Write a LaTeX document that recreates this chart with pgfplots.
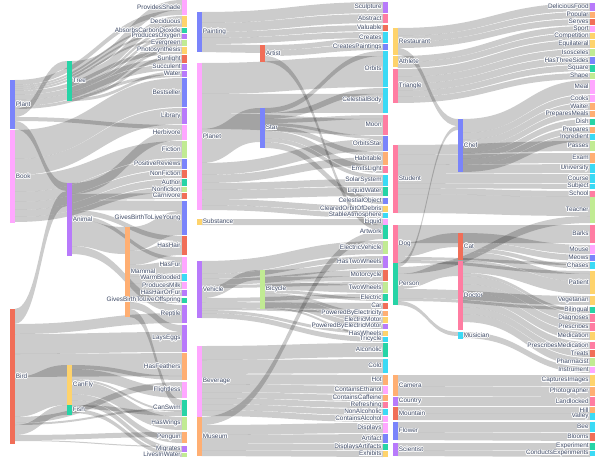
\documentclass[border=0pt]{standalone}
\usepackage{fontspec}
\setmainfont{Liberation Sans}
\usepackage{pgfplots}
\pgfplotsset{compat=1.18}
\usepackage{contour}
\contourlength{0.6bp}

\definecolor{pblue}{HTML}{636EFA}
\definecolor{pred}{HTML}{EF553B}
\definecolor{pteal}{HTML}{00CC96}
\definecolor{ppurple}{HTML}{AB63FA}
\definecolor{porange}{HTML}{FFA15A}
\definecolor{pcyan}{HTML}{19D3F3}
\definecolor{ppinkred}{HTML}{FF6692}
\definecolor{plgreen}{HTML}{B6E880}
\definecolor{ppink}{HTML}{FF97FF}
\definecolor{pyellow}{HTML}{FECB52}
\definecolor{labelcol}{RGB}{62,74,102}

% column x positions and label side
\def\cx@{}
\expandafter\def\csname cx@0\endcsname{10}
\expandafter\def\csname cx@1\endcsname{67}
\expandafter\def\csname cx@2\endcsname{125}
\expandafter\def\csname cx@3\endcsname{182}
\expandafter\def\csname cx@4\endcsname{197}
\expandafter\def\csname cx@5\endcsname{260}
\expandafter\def\csname cx@6\endcsname{383}
\expandafter\def\csname cx@7\endcsname{393}
\expandafter\def\csname cx@8\endcsname{458}
\expandafter\def\csname cx@9\endcsname{590}
\expandafter\def\csname cs@0\endcsname{r}
\expandafter\def\csname cs@1\endcsname{r}
\expandafter\def\csname cs@2\endcsname{r}
\expandafter\def\csname cs@3\endcsname{l}
\expandafter\def\csname cs@4\endcsname{r}
\expandafter\def\csname cs@5\endcsname{r}
\expandafter\def\csname cs@6\endcsname{l}
\expandafter\def\csname cs@7\endcsname{r}
\expandafter\def\csname cs@8\endcsname{r}
\expandafter\def\csname cs@9\endcsname{l}
\def\nw{4.5}

% nodes: name, column, top, bottom, colour
\def\ndstore#1#2#3#4#5{%
  \expandafter\xdef\csname nx@#1\endcsname{\csname cx@#2\endcsname}%
  \expandafter\xdef\csname no@#1\endcsname{#3}%
  \expandafter\xdef\csname ni@#1\endcsname{#3}}
\def\nddraw#1#2#3#4#5{%
  \edef\nxa{\csname cx@#2\endcsname}%
  \pgfmathsetmacro\nxb{\nxa+\nw}%
  \pgfmathsetmacro\nym{(#3+#4)/2}%
  \edef\tmp{\noexpand\fill[#5!85!white] (axis cs:\nxa,#3) rectangle (axis cs:\nxb,#4);}\tmp
  \if l\csname cs@#2\endcsname
    \edef\tmp{\noexpand\node[lbl,anchor=east] at (axis cs:\nxa,\nym) {\noexpand\contour{white}{#1}};}\tmp
  \else
    \edef\tmp{\noexpand\node[lbl,anchor=west] at (axis cs:\nxb,\nym) {\noexpand\contour{white}{#1}};}\tmp
  \fi}

% links: source, target, width
\def\lk#1#2#3{%
  \pgfmathsetmacro\xa{\csname nx@#1\endcsname+\nw}%
  \edef\ya{\csname no@#1\endcsname}%
  \pgfmathsetmacro\yb{\ya+#3}%
  \expandafter\xdef\csname no@#1\endcsname{\yb}%
  \edef\xb{\csname nx@#2\endcsname}%
  \edef\yc{\csname ni@#2\endcsname}%
  \pgfmathsetmacro\yd{\yc+#3}%
  \expandafter\xdef\csname ni@#2\endcsname{\yd}%
  \pgfmathsetmacro\xm{(\xa+\xb)/2}%
  \edef\tmp{\noexpand\fill[flow] (axis cs:\xa,\ya) .. controls (axis cs:\xm,\ya) and (axis cs:\xm,\yc) .. (axis cs:\xb,\yc) -- (axis cs:\xb,\yd) .. controls (axis cs:\xm,\yd) and (axis cs:\xm,\yb) .. (axis cs:\xa,\yb) -- cycle;}\tmp}

\def\allnodes{%
  \nd{Plant}{0}{80}{129}{pblue}
  \nd{Book}{0}{130}{223}{ppink}
  \nd{Bird}{0}{309}{444}{pred}
  \nd{Tree}{1}{61}{101}{pteal}
  \nd{Animal}{1}{183}{256}{ppurple}
  \nd{CanFly}{1}{365}{405}{pyellow}
  \nd{Fish}{1}{405}{415}{pteal}
  \nd{Mammal}{2}{227}{317}{porange}
  \nd{ProvidesShade}{3}{0}{15}{ppink}
  \nd{Deciduous}{3}{16}{27}{pyellow}
  \nd{AbsorbsCarbonDioxide}{3}{28}{33}{pteal}
  \nd{ProducesOxygen}{3}{34}{39}{ppurple}
  \nd{Evergreen}{3}{40}{46}{plgreen}
  \nd{Photosynthesis}{3}{47}{54}{pyellow}
  \nd{Sunlight}{3}{55}{63}{pred}
  \nd{Succulent}{3}{64}{70}{ppurple}
  \nd{Water}{3}{71}{77}{ppurple}
  \nd{Bestseller}{3}{78}{107}{pblue}
  \nd{Library}{3}{108}{124}{ppurple}
  \nd{Herbivore}{3}{125}{140}{ppink}
  \nd{Fiction}{3}{141}{158}{plgreen}
  \nd{PositiveReviews}{3}{159}{169}{pblue}
  \nd{NonFiction}{3}{170}{178}{pred}
  \nd{Author}{3}{179}{186}{pteal}
  \nd{Nonfiction}{3}{187}{192}{plgreen}
  \nd{Carnivore}{3}{193}{199}{pred}
  \nd{GivesBirthToLiveYoung}{3}{201}{235}{pblue}
  \nd{HasHair}{3}{236}{255}{pred}
  \nd{HasFur}{3}{257}{273}{ppink}
  \nd{WarmBlooded}{3}{274}{281}{pcyan}
  \nd{ProducesMilk}{3}{282}{289}{ppink}
  \nd{HasHairOrFur}{3}{290}{296}{ppurple}
  \nd{GivesBirthToLiveOffspring}{3}{298}{303}{pteal}
  \nd{Reptile}{3}{305}{323}{ppurple}
  \nd{LaysEggs}{3}{325}{352}{ppurple}
  \nd{HasFeathers}{3}{353}{380}{porange}
  \nd{Flightless}{3}{382}{398}{ppink}
  \nd{CanSwim}{3}{400}{416}{pteal}
  \nd{HasWings}{3}{417}{430}{plgreen}
  \nd{Penguin}{3}{432}{443}{porange}
  \nd{Migrates}{3}{446}{452}{ppurple}
  \nd{LivesInWater}{3}{453}{457}{plgreen}
  \nd{Painting}{4}{12}{52}{pblue}
  \nd{Planet}{4}{63}{210}{ppink}
  \nd{Substance}{4}{219}{225}{pyellow}
  \nd{Vehicle}{4}{261}{318}{ppurple}
  \nd{Beverage}{4}{346}{417}{ppink}
  \nd{Museum}{4}{417}{456}{porange}
  \nd{Artist}{5}{45}{62}{pred}
  \nd{Star}{5}{108}{148}{pblue}
  \nd{Bicycle}{5}{270}{309}{plgreen}
  \nd{Sculpture}{6}{2}{13}{ppurple}
  \nd{Abstract}{6}{14}{23}{ppinkred}
  \nd{Valuable}{6}{25}{31}{pred}
  \nd{Creates}{6}{32}{43}{pcyan}
  \nd{CreatesPaintings}{6}{44}{50}{pblue}
  \nd{Orbits}{6}{51}{87}{pcyan}
  \nd{CelestialBody}{6}{88}{113}{pcyan}
  \nd{Moon}{6}{115}{135}{ppinkred}
  \nd{OrbitsStar}{6}{136}{151}{pblue}
  \nd{Habitable}{6}{152}{165}{porange}
  \nd{EmitsLight}{6}{166}{173}{ppinkred}
  \nd{SolarSystem}{6}{175}{186}{pcyan}
  \nd{LiquidWater}{6}{187}{196}{pteal}
  \nd{CelestialObject}{6}{198}{204}{pblue}
  \nd{ClearedOrbitOfDebris}{6}{206}{212}{pyellow}
  \nd{StableAtmosphere}{6}{213}{218}{pcyan}
  \nd{Liquid}{6}{219}{225}{ppink}
  \nd{Artwork}{6}{225}{239}{pteal}
  \nd{ElectricVehicle}{6}{241}{254}{plgreen}
  \nd{HasTwoWheels}{6}{256}{268}{ppurple}
  \nd{Motorcycle}{6}{270}{281}{pred}
  \nd{TwoWheels}{6}{282}{293}{plgreen}
  \nd{Electric}{6}{294}{301}{pteal}
  \nd{Car}{6}{303}{309}{pred}
  \nd{PoweredByElectricity}{6}{311}{316}{porange}
  \nd{ElectricMotor}{6}{317}{323}{pyellow}
  \nd{PoweredByElectricMotor}{6}{324}{329}{ppurple}
  \nd{HasWheels}{6}{331}{336}{pyellow}
  \nd{Tricycle}{6}{337}{342}{pcyan}
  \nd{Alcoholic}{6}{343}{357}{pteal}
  \nd{Cold}{6}{359}{373}{pcyan}
  \nd{Hot}{6}{375}{385}{porange}
  \nd{ContainsEthanol}{6}{386}{394}{ppink}
  \nd{ContainsCaffeine}{6}{395}{401}{porange}
  \nd{Refreshing}{6}{402}{408}{ppinkred}
  \nd{NonAlcoholic}{6}{409}{415}{pcyan}
  \nd{ContainsAlcohol}{6}{416}{422}{ppink}
  \nd{Displays}{6}{423}{433}{ppink}
  \nd{Artifact}{6}{434}{443}{pblue}
  \nd{DisplaysArtifacts}{6}{444}{450}{pteal}
  \nd{Exhibits}{6}{451}{457}{pyellow}
  \nd{Restaurant}{7}{28}{55}{pyellow}
  \nd{Athlete}{7}{56}{67}{pyellow}
  \nd{Triangle}{7}{69}{103}{ppinkred}
  \nd{Student}{7}{145}{213}{ppinkred}
  \nd{Dog}{7}{225}{263}{ppinkred}
  \nd{Person}{7}{263}{305}{pteal}
  \nd{Camera}{7}{375}{396}{porange}
  \nd{Country}{7}{397}{406}{ppurple}
  \nd{Mountain}{7}{407}{420}{pred}
  \nd{Flower}{7}{422}{440}{pblue}
  \nd{Scientist}{7}{443}{456}{ppurple}
  \nd{Chef}{8}{119}{172}{pblue}
  \nd{Cat}{8}{233}{260}{pred}
  \nd{Doctor}{8}{261}{330}{ppinkred}
  \nd{Musician}{8}{332}{339}{pcyan}
  \nd{DeliciousFood}{9}{3}{11}{ppurple}
  \nd{Popular}{9}{12}{18}{porange}
  \nd{Serves}{9}{19}{25}{pred}
  \nd{Sport}{9}{26}{32}{ppink}
  \nd{Competition}{9}{33}{39}{pyellow}
  \nd{Equilateral}{9}{40}{48}{pyellow}
  \nd{Isosceles}{9}{49}{56}{plgreen}
  \nd{HasThreeSides}{9}{57}{64}{pblue}
  \nd{Square}{9}{65}{72}{pteal}
  \nd{Shape}{9}{73}{79}{plgreen}
  \nd{Meal}{9}{80}{94}{ppink}
  \nd{Cooks}{9}{95}{102}{ppink}
  \nd{Waiter}{9}{103}{110}{porange}
  \nd{PreparesMeals}{9}{111}{117}{porange}
  \nd{Dish}{9}{119}{125}{pteal}
  \nd{Prepares}{9}{127}{133}{porange}
  \nd{Ingredient}{9}{134}{140}{pcyan}
  \nd{Passes}{9}{141}{151}{plgreen}
  \nd{Exam}{9}{153}{163}{porange}
  \nd{University}{9}{164}{173}{pcyan}
  \nd{Course}{9}{174}{183}{pcyan}
  \nd{Subject}{9}{184}{189}{pcyan}
  \nd{School}{9}{191}{197}{ppinkred}
  \nd{Teacher}{9}{197}{223}{plgreen}
  \nd{Barks}{9}{225}{243}{ppinkred}
  \nd{Mouse}{9}{245}{254}{ppink}
  \nd{Meows}{9}{255}{261}{pblue}
  \nd{Chases}{9}{262}{269}{pcyan}
  \nd{Patient}{9}{271}{294}{pyellow}
  \nd{Vegetarian}{9}{296}{305}{pyellow}
  \nd{Bilingual}{9}{307}{313}{pteal}
  \nd{Diagnoses}{9}{314}{322}{ppinkred}
  \nd{Prescribes}{9}{323}{331}{ppinkred}
  \nd{Medication}{9}{332}{340}{pyellow}
  \nd{PrescribesMedication}{9}{342}{349}{ppinkred}
  \nd{Treats}{9}{350}{357}{pred}
  \nd{Pharmacist}{9}{358}{366}{plgreen}
  \nd{Instrument}{9}{367}{373}{ppink}
  \nd{CapturesImages}{9}{375}{386}{pyellow}
  \nd{Photographer}{9}{387}{396}{porange}
  \nd{Landlocked}{9}{397}{406}{ppinkred}
  \nd{Hill}{9}{407}{413}{porange}
  \nd{Valley}{9}{413}{420}{pcyan}
  \nd{Bee}{9}{422}{432}{pcyan}
  \nd{Blooms}{9}{433}{441}{pred}
  \nd{Experiment}{9}{443}{450}{pteal}
  \nd{ConductsExperiments}{9}{451}{456}{pcyan}
}

\begin{document}
\begin{tikzpicture}[
  flow/.style={fill=black, fill opacity=0.2},
  lbl/.style={font=\fontsize{6.4bp}{7bp}\selectfont, text=labelcol, inner sep=1.2bp}]
\begin{axis}[width=598bp, height=458bp, scale only axis, hide axis,
  xmin=0, xmax=598, ymin=0, ymax=458, y dir=reverse, clip=false]
\let\nd\ndstore
\allnodes
% --- links, sorted by source then target position
\lk{Tree}{ProvidesShade}{10}
\lk{Tree}{Deciduous}{9}
\lk{Tree}{AbsorbsCarbonDioxide}{3}
\lk{Tree}{ProducesOxygen}{3}
\lk{Tree}{Evergreen}{6}
\lk{Tree}{Photosynthesis}{3}
\lk{Tree}{Sunlight}{3}
\lk{Tree}{Water}{3}
\lk{Plant}{ProvidesShade}{5}
\lk{Plant}{Deciduous}{2}
\lk{Plant}{AbsorbsCarbonDioxide}{2}
\lk{Plant}{ProducesOxygen}{2}
\lk{Plant}{Photosynthesis}{4}
\lk{Plant}{Sunlight}{5}
\lk{Plant}{Succulent}{6}
\lk{Plant}{Water}{3}
\lk{Plant}{Tree}{8}
\lk{Plant}{Herbivore}{4}
\lk{Plant}{Animal}{8}
\lk{Book}{Bestseller}{29}
\lk{Book}{Library}{16}
\lk{Book}{Fiction}{17}
\lk{Book}{PositiveReviews}{10}
\lk{Book}{NonFiction}{8}
\lk{Book}{Author}{7}
\lk{Book}{Nonfiction}{5}
\lk{Animal}{Herbivore}{11}
\lk{Animal}{Carnivore}{6}
\lk{Animal}{GivesBirthToLiveYoung}{10}
\lk{Animal}{HasHair}{5}
\lk{Animal}{HasFur}{4}
\lk{Animal}{Mammal}{27}
\lk{Animal}{Reptile}{8}
\lk{Mammal}{GivesBirthToLiveYoung}{24}
\lk{Mammal}{HasHair}{14}
\lk{Mammal}{HasFur}{12}
\lk{Mammal}{WarmBlooded}{7}
\lk{Mammal}{ProducesMilk}{7}
\lk{Mammal}{HasHairOrFur}{6}
\lk{Mammal}{GivesBirthToLiveOffspring}{5}
\lk{Mammal}{LaysEggs}{7}
\lk{Mammal}{CanSwim}{8}
\lk{Bird}{Animal}{15}
\lk{Bird}{Reptile}{10}
\lk{Bird}{LaysEggs}{20}
\lk{Bird}{HasFeathers}{23}
\lk{Bird}{CanFly}{40}
\lk{Bird}{Flightless}{6}
\lk{Bird}{CanSwim}{2}
\lk{Bird}{Fish}{10}
\lk{Bird}{Penguin}{5}
\lk{Bird}{Migrates}{1}
\lk{CanFly}{HasFeathers}{4}
\lk{CanFly}{Flightless}{10}
\lk{CanFly}{CanSwim}{2}
\lk{CanFly}{HasWings}{13}
\lk{CanFly}{Penguin}{6}
\lk{CanFly}{Migrates}{5}
\lk{Fish}{CanSwim}{4}
\lk{Fish}{LivesInWater}{4}
\lk{Painting}{Sculpture}{11}
\lk{Painting}{Abstract}{9}
\lk{Painting}{Valuable}{6}
\lk{Painting}{Creates}{6}
\lk{Painting}{Artist}{8}
\lk{Artist}{Creates}{5}
\lk{Artist}{CreatesPaintings}{6}
\lk{Artist}{Artwork}{6}
\lk{Star}{Orbits}{5}
\lk{Star}{CelestialBody}{6}
\lk{Star}{Moon}{4}
\lk{Star}{OrbitsStar}{3}
\lk{Star}{Habitable}{5}
\lk{Star}{EmitsLight}{7}
\lk{Star}{SolarSystem}{4}
\lk{Star}{CelestialObject}{6}
\lk{Planet}{Orbits}{31}
\lk{Planet}{CelestialBody}{19}
\lk{Planet}{Moon}{16}
\lk{Planet}{Star}{34}
\lk{Planet}{OrbitsStar}{12}
\lk{Planet}{Habitable}{8}
\lk{Planet}{SolarSystem}{7}
\lk{Planet}{LiquidWater}{9}
\lk{Planet}{ClearedOrbitOfDebris}{6}
\lk{Planet}{StableAtmosphere}{5}
\lk{Substance}{Liquid}{6}
\lk{Vehicle}{ElectricVehicle}{13}
\lk{Vehicle}{HasTwoWheels}{5}
\lk{Vehicle}{Motorcycle}{6}
\lk{Vehicle}{TwoWheels}{3}
\lk{Vehicle}{Bicycle}{10}
\lk{Vehicle}{Electric}{4}
\lk{Vehicle}{Car}{6}
\lk{Vehicle}{PoweredByElectricity}{2}
\lk{Vehicle}{HasWheels}{3}
\lk{Vehicle}{Tricycle}{5}
\lk{Bicycle}{HasTwoWheels}{7}
\lk{Bicycle}{Motorcycle}{5}
\lk{Bicycle}{TwoWheels}{8}
\lk{Bicycle}{Electric}{3}
\lk{Bicycle}{PoweredByElectricity}{3}
\lk{Bicycle}{ElectricMotor}{6}
\lk{Bicycle}{PoweredByElectricMotor}{5}
\lk{Bicycle}{HasWheels}{2}
\lk{Beverage}{Alcoholic}{14}
\lk{Beverage}{Cold}{14}
\lk{Beverage}{Hot}{10}
\lk{Beverage}{ContainsEthanol}{8}
\lk{Beverage}{ContainsCaffeine}{6}
\lk{Beverage}{Refreshing}{6}
\lk{Beverage}{NonAlcoholic}{6}
\lk{Beverage}{ContainsAlcohol}{6}
\lk{Museum}{Artwork}{8}
\lk{Museum}{Displays}{10}
\lk{Museum}{Artifact}{9}
\lk{Museum}{DisplaysArtifacts}{6}
\lk{Museum}{Exhibits}{6}
\lk{Restaurant}{DeliciousFood}{8}
\lk{Restaurant}{Popular}{6}
\lk{Restaurant}{Serves}{6}
\lk{Restaurant}{Chef}{7}
\lk{Athlete}{Sport}{6}
\lk{Athlete}{Competition}{6}
\lk{Triangle}{Equilateral}{8}
\lk{Triangle}{Isosceles}{7}
\lk{Triangle}{HasThreeSides}{7}
\lk{Triangle}{Square}{6}
\lk{Triangle}{Shape}{6}
\lk{Chef}{Meal}{14}
\lk{Chef}{Cooks}{7}
\lk{Chef}{Waiter}{7}
\lk{Chef}{PreparesMeals}{6}
\lk{Chef}{Dish}{6}
\lk{Chef}{Prepares}{6}
\lk{Chef}{Ingredient}{7}
\lk{Student}{Passes}{10}
\lk{Student}{Exam}{10}
\lk{Student}{University}{9}
\lk{Student}{Course}{9}
\lk{Student}{Subject}{5}
\lk{Student}{School}{6}
\lk{Student}{Teacher}{19}
\lk{Dog}{Barks}{18}
\lk{Dog}{Cat}{14}
\lk{Dog}{Chases}{3}
\lk{Dog}{Patient}{3}
\lk{Cat}{Mouse}{9}
\lk{Cat}{Meows}{6}
\lk{Cat}{Chases}{4}
\lk{Cat}{Patient}{8}
\lk{Person}{Chef}{4}
\lk{Person}{Teacher}{7}
\lk{Person}{Doctor}{15}
\lk{Person}{Vegetarian}{9}
\lk{Person}{Bilingual}{3}
\lk{Person}{Musician}{4}
\lk{Doctor}{Patient}{12}
\lk{Doctor}{Bilingual}{3}
\lk{Doctor}{Diagnoses}{8}
\lk{Doctor}{Prescribes}{8}
\lk{Doctor}{Medication}{8}
\lk{Doctor}{PrescribesMedication}{7}
\lk{Doctor}{Treats}{7}
\lk{Doctor}{Pharmacist}{8}
\lk{Musician}{Instrument}{6}
\lk{Camera}{CapturesImages}{11}
\lk{Camera}{Photographer}{10}
\lk{Country}{Landlocked}{9}
\lk{Mountain}{Hill}{6}
\lk{Mountain}{Valley}{7}
\lk{Flower}{Bee}{10}
\lk{Flower}{Blooms}{8}
\lk{Scientist}{Experiment}{7}
\lk{Scientist}{ConductsExperiments}{6}
% --- node bars and labels on top
\let\nd\nddraw
\allnodes
\end{axis}
\pgfresetboundingbox
\path (current axis.south west) rectangle (current axis.north east);
\end{tikzpicture}
\end{document}
